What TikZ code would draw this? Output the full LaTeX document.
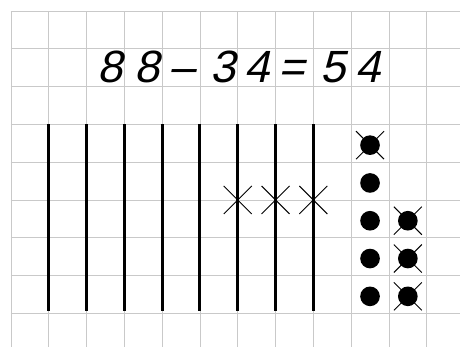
\documentclass[tikz,border=0pt]{standalone}
\usepackage{fontspec}
\newfontfamily\handfont[FakeSlant=0.22]{Liberation Sans}

\begin{document}
\begin{tikzpicture}[x=1cm,y=1cm,font=\handfont\fontsize{34}{34}\selectfont]
  \useasboundingbox (-0.29,0.29) rectangle (11.88,-8.89);
  % squared paper
  \path[draw,gray!42,line width=.6pt] (0,0) -- (11.88,0);
  \path[draw,gray!42,line width=.6pt,shift={(0,-1)}] (0,0) grid (11.88,-7.89);
  \path[draw,gray!42,line width=.6pt] (0,0) grid (11,-8.89);

  % equation
  \node[anchor=base] (d1) at (2.62,-1.9) {8};
  \node[anchor=base] (d2) at (3.60,-1.9) {8};
  \node[anchor=base] (minus) at (4.52,-1.9) {–};
  \node[anchor=base] (d3) at (5.61,-1.9) {3};
  \node[anchor=base] (d4) at (6.51,-1.9) {4};
  \node[anchor=base] (eq) at (7.43,-1.9) {=};
  \node[anchor=base] (d5) at (8.52,-1.9) {5};
  \node[anchor=base] (d6) at (9.44,-1.9) {4};

  % tens sticks
  \path[draw,line width=2.2pt] (1,-3) -- (1,-7.95);
  \path[draw,line width=2.2pt] (2,-3) -- (2,-7.95);
  \path[draw,line width=2.2pt] (3,-3) -- (3,-7.95);
  \path[draw,line width=2.2pt] (4,-3) -- (4,-7.95);
  \path[draw,line width=2.2pt] (5,-3) -- (5,-7.95);
  \path[draw,line width=2.2pt] (6,-3) -- (6,-7.95);
  \path[draw,line width=2.2pt] (7,-3) -- (7,-7.95);
  \path[draw,line width=2.2pt] (8,-3) -- (8,-7.95);

  % crossed sticks
  \path[draw,line width=.7pt] (6,-5) +(-.37,-.37) -- +(.37,.37) +(-.37,.37) -- +(.37,-.37);
  \path[draw,line width=.7pt] (7,-5) +(-.37,-.37) -- +(.37,.37) +(-.37,.37) -- +(.37,-.37);
  \path[draw,line width=.7pt] (8,-5) +(-.37,-.37) -- +(.37,.37) +(-.37,.37) -- +(.37,-.37);

  % units dots
  \path[fill] (9.5,-3.55) circle[radius=.26];
  \path[fill] (9.5,-4.55) circle[radius=.26];
  \path[fill] (9.5,-5.55) circle[radius=.26];
  \path[fill] (9.5,-6.55) circle[radius=.26];
  \path[fill] (9.5,-7.55) circle[radius=.26];
  \path[fill] (10.5,-5.55) circle[radius=.26];
  \path[fill] (10.5,-6.55) circle[radius=.26];
  \path[fill] (10.5,-7.55) circle[radius=.26];

  % crossed dots
  \path[draw,line width=.7pt] (9.5,-3.55) +(-.37,-.37) -- +(.37,.37) +(-.37,.37) -- +(.37,-.37);
  \path[draw,line width=.7pt] (10.5,-5.55) +(-.37,-.37) -- +(.37,.37) +(-.37,.37) -- +(.37,-.37);
  \path[draw,line width=.7pt] (10.5,-6.55) +(-.37,-.37) -- +(.37,.37) +(-.37,.37) -- +(.37,-.37);
  \path[draw,line width=.7pt] (10.5,-7.55) +(-.37,-.37) -- +(.37,.37) +(-.37,.37) -- +(.37,-.37);
\end{tikzpicture}
\end{document}
